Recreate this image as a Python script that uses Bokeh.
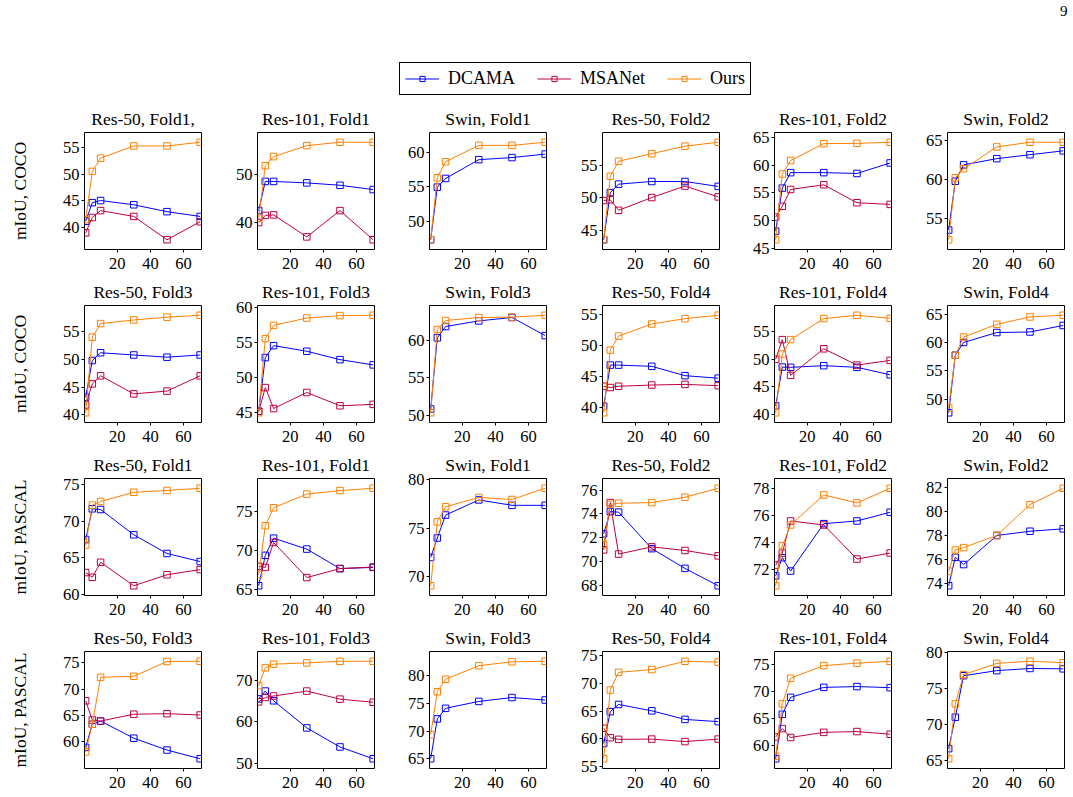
from bokeh.plotting import figure
from bokeh.layouts import column, row
from bokeh.models import Range1d, FixedTicker, Legend, LegendItem, Label, LinearAxis
from bokeh.embed import file_html
from bokeh.resources import INLINE

# ---------------- data ----------------
shots = [1, 5, 10, 30, 50, 70]
series_names = ["DCAMA", "MSANet", "Ours"]
series_colors = ["#0000ff", "#bf0040", "#ff8000"]
row_labels = ["mIoU, COCO", "mIoU, COCO", "mIoU, PASCAL", "mIoU, PASCAL"]
x_ticks = [20, 40, 60]

# Row 1 : COCO, folds 1-2
dcama_coco_r50_f1 = [41.1, 44.6, 45.0, 44.2, 42.9, 42.0]
msanet_coco_r50_f1 = [38.9, 41.8, 43.1, 42.0, 37.6, 41.0]
ours_coco_r50_f1 = [41.4, 50.5, 53.0, 55.3, 55.3, 56.0]
dcama_coco_r101_f1 = [42.4, 48.5, 48.5, 48.2, 47.7, 46.8]
msanet_coco_r101_f1 = [39.9, 41.4, 41.5, 36.9, 42.4, 36.3]
ours_coco_r101_f1 = [40.85, 51.8, 53.7, 56.0, 56.7, 56.7]
dcama_coco_swin_f1 = [47.4, 54.95, 56.2, 58.9, 59.2, 59.7]
ours_coco_swin_f1 = [47.4, 56.3, 58.6, 60.95, 60.95, 61.4]
dcama_coco_r50_f2 = [43.6, 50.8, 52.1, 52.5, 52.5, 51.75]
msanet_coco_r50_f2 = [49.6, 49.7, 48.1, 50.05, 51.8, 50.15]
ours_coco_r50_f2 = [43.6, 53.3, 55.6, 56.75, 57.9, 58.5]
dcama_coco_r101_f2 = [48.05, 55.85, 58.65, 58.65, 58.5, 60.4]
msanet_coco_r101_f2 = [50.6, 52.55, 55.6, 56.45, 53.2, 52.9]
ours_coco_r101_f2 = [46.5, 58.4, 60.85, 63.9, 63.95, 64.15]
dcama_coco_swin_f2 = [53.55, 59.8, 61.9, 62.7, 63.2, 63.7]
ours_coco_swin_f2 = [52.3, 60.25, 61.4, 64.2, 64.8, 64.8]

# Row 2 : COCO, folds 3-4
dcama_coco_r50_f3 = [43.2, 49.8, 51.2, 50.8, 50.4, 50.8]
msanet_coco_r50_f3 = [41.8, 45.6, 47.05, 43.8, 44.3, 47.05]
ours_coco_r50_f3 = [40.4, 54.0, 56.45, 57.1, 57.6, 57.95]
dcama_coco_r101_f3 = [45.2, 52.9, 54.6, 53.8, 52.6, 51.85]
msanet_coco_r101_f3 = [45.2, 48.6, 45.6, 47.9, 46.0, 46.2]
ours_coco_r101_f3 = [45.0, 55.6, 57.5, 58.55, 58.9, 58.95]
dcama_coco_swin_f3 = [50.85, 60.3, 61.8, 62.55, 63.0, 60.6]
ours_coco_swin_f3 = [50.35, 61.4, 62.6, 63.0, 63.05, 63.3]
dcama_coco_r50_f4 = [40.2, 46.8, 46.8, 46.6, 45.1, 44.7]
msanet_coco_r50_f4 = [43.4, 43.2, 43.4, 43.6, 43.7, 43.5]
ours_coco_r50_f4 = [39.15, 49.2, 51.45, 53.4, 54.25, 54.8]
dcama_coco_r101_f4 = [41.6, 48.6, 48.55, 48.85, 48.55, 47.2]
msanet_coco_r101_f4 = [50.0, 53.55, 47.1, 51.9, 48.95, 49.8]
ours_coco_r101_f4 = [40.35, 50.95, 53.55, 57.35, 57.95, 57.4]
dcama_coco_swin_f4 = [47.6, 57.75, 60.0, 61.75, 61.85, 63.0]
ours_coco_swin_f4 = [48.5, 57.75, 60.95, 63.2, 64.5, 64.8]

# Row 3 : PASCAL, folds 1-2
dcama_pascal_r50_f1 = [67.5, 71.7, 71.6, 68.15, 65.6, 64.5]
msanet_pascal_r50_f1 = [63.0, 62.35, 64.4, 61.2, 62.7, 63.4]
ours_pascal_r50_f1 = [66.75, 72.2, 72.7, 73.95, 74.2, 74.5]
dcama_pascal_r101_f1 = [65.5, 69.4, 71.6, 70.2, 67.7, 67.85]
msanet_pascal_r101_f1 = [68.0, 67.85, 71.05, 66.55, 67.7, 67.9]
ours_pascal_r101_f1 = [66.95, 73.2, 75.5, 77.25, 77.7, 78.0]
dcama_pascal_swin_f1 = [72.0, 74.0, 76.35, 77.9, 77.35, 77.35]
ours_pascal_swin_f1 = [69.1, 75.65, 77.2, 78.15, 77.95, 79.1]
dcama_pascal_r50_f2 = [72.35, 74.2, 74.15, 71.1, 69.45, 68.0]
msanet_pascal_r50_f2 = [71.0, 74.95, 70.65, 71.25, 70.95, 70.5]
ours_pascal_r50_f2 = [71.45, 74.8, 74.9, 74.95, 75.4, 76.15]
dcama_pascal_r101_f2 = [71.5, 72.85, 71.85, 75.4, 75.6, 76.25]
msanet_pascal_r101_f2 = [72.3, 73.2, 75.6, 75.3, 72.75, 73.2]
ours_pascal_r101_f2 = [70.75, 73.75, 75.3, 77.55, 76.95, 78.05]
dcama_pascal_swin_f2 = [73.85, 76.2, 75.6, 78.0, 78.35, 78.55]
ours_pascal_swin_f2 = [75.05, 76.8, 77.0, 78.0, 80.55, 81.9]

# Row 4 : PASCAL, folds 3-4
dcama_pascal_r50_f3 = [58.95, 63.35, 63.95, 60.7, 58.45, 56.8]
msanet_pascal_r50_f3 = [67.8, 64.15, 63.95, 65.25, 65.35, 65.1]
ours_pascal_r50_f3 = [58.1, 63.35, 72.25, 72.45, 75.25, 75.3]
dcama_pascal_r101_f3 = [65.5, 67.4, 65.05, 58.5, 53.9, 51.05]
msanet_pascal_r101_f3 = [64.8, 65.85, 66.2, 67.4, 65.45, 64.7]
ours_pascal_r101_f3 = [68.7, 73.0, 73.9, 74.2, 74.6, 74.6]
dcama_pascal_swin_f3 = [65.0, 72.2, 74.1, 75.35, 76.05, 75.6]
ours_pascal_swin_f3 = [69.35, 77.1, 79.35, 81.8, 82.5, 82.6]
dcama_pascal_r50_f4 = [59.15, 64.9, 66.2, 65.05, 63.5, 63.1]
msanet_pascal_r50_f4 = [61.9, 60.2, 59.9, 59.95, 59.5, 59.95]
ours_pascal_r50_f4 = [56.4, 68.8, 72.0, 72.5, 74.0, 73.85]
dcama_pascal_r101_f4 = [57.5, 65.75, 68.9, 70.75, 70.9, 70.7]
msanet_pascal_r101_f4 = [61.55, 63.1, 61.45, 62.4, 62.55, 62.05]
ours_pascal_r101_f4 = [57.95, 67.7, 72.45, 74.8, 75.25, 75.6]
dcama_pascal_swin_f4 = [66.7, 71.05, 76.8, 77.5, 77.8, 77.75]
ours_pascal_swin_f4 = [65.3, 72.9, 76.95, 78.5, 78.8, 78.6]

# panel titles and y tick labels, per row
titles_row1 = ["Res-50, Fold1,", "Res-101, Fold1", "Swin, Fold1", "Res-50, Fold2", "Res-101, Fold2", "Swin, Fold2"]
titles_row2 = ["Res-50, Fold3", "Res-101, Fold3", "Swin, Fold3", "Res-50, Fold4", "Res-101, Fold4", "Swin, Fold4"]
titles_row3 = ["Res-50, Fold1", "Res-101, Fold1", "Swin, Fold1", "Res-50, Fold2", "Res-101, Fold2", "Swin, Fold2"]
titles_row4 = ["Res-50, Fold3", "Res-101, Fold3", "Swin, Fold3", "Res-50, Fold4", "Res-101, Fold4", "Swin, Fold4"]

yticks_row1 = [[40, 45, 50, 55], [40, 50], [50, 55, 60], [45, 50, 55], [45, 50, 55, 60, 65], [55, 60, 65]]
yticks_row2 = [[40, 45, 50, 55], [45, 50, 55, 60], [50, 55, 60], [40, 45, 50, 55], [40, 45, 50, 55], [50, 55, 60, 65]]
yticks_row3 = [[60, 65, 70, 75], [65, 70, 75], [70, 75, 80], [68, 70, 72, 74, 76], [70, 72, 74, 76, 78], [74, 76, 78, 80, 82]]
yticks_row4 = [[60, 65, 70, 75], [50, 60, 70], [65, 70, 75, 80], [55, 60, 65, 70, 75], [60, 65, 70, 75], [65, 70, 75, 80]]

# series table built from the named lists (None = method not reported)
rows_series = [
    [(dcama_coco_r50_f1, msanet_coco_r50_f1, ours_coco_r50_f1),
     (dcama_coco_r101_f1, msanet_coco_r101_f1, ours_coco_r101_f1),
     (dcama_coco_swin_f1, None, ours_coco_swin_f1),
     (dcama_coco_r50_f2, msanet_coco_r50_f2, ours_coco_r50_f2),
     (dcama_coco_r101_f2, msanet_coco_r101_f2, ours_coco_r101_f2),
     (dcama_coco_swin_f2, None, ours_coco_swin_f2)],
    [(dcama_coco_r50_f3, msanet_coco_r50_f3, ours_coco_r50_f3),
     (dcama_coco_r101_f3, msanet_coco_r101_f3, ours_coco_r101_f3),
     (dcama_coco_swin_f3, None, ours_coco_swin_f3),
     (dcama_coco_r50_f4, msanet_coco_r50_f4, ours_coco_r50_f4),
     (dcama_coco_r101_f4, msanet_coco_r101_f4, ours_coco_r101_f4),
     (dcama_coco_swin_f4, None, ours_coco_swin_f4)],
    [(dcama_pascal_r50_f1, msanet_pascal_r50_f1, ours_pascal_r50_f1),
     (dcama_pascal_r101_f1, msanet_pascal_r101_f1, ours_pascal_r101_f1),
     (dcama_pascal_swin_f1, None, ours_pascal_swin_f1),
     (dcama_pascal_r50_f2, msanet_pascal_r50_f2, ours_pascal_r50_f2),
     (dcama_pascal_r101_f2, msanet_pascal_r101_f2, ours_pascal_r101_f2),
     (dcama_pascal_swin_f2, None, ours_pascal_swin_f2)],
    [(dcama_pascal_r50_f3, msanet_pascal_r50_f3, ours_pascal_r50_f3),
     (dcama_pascal_r101_f3, msanet_pascal_r101_f3, ours_pascal_r101_f3),
     (dcama_pascal_swin_f3, None, ours_pascal_swin_f3),
     (dcama_pascal_r50_f4, msanet_pascal_r50_f4, ours_pascal_r50_f4),
     (dcama_pascal_r101_f4, msanet_pascal_r101_f4, ours_pascal_r101_f4),
     (dcama_pascal_swin_f4, None, ours_pascal_swin_f4)],
]
rows_titles = [titles_row1, titles_row2, titles_row3, titles_row4]
rows_yticks = [yticks_row1, yticks_row2, yticks_row3, yticks_row4]

# ---------------- styling / layout ----------------
SERIF = "Liberation Serif"
TICK_FS = "16.5px"
TITLE_FS = "17.5px"
FRAME_W, FRAME_H = 117, 117
LEFT_BORDERS = [84, 50, 50, 50, 50, 50]
RIGHT_BORDERS = [6, 5, 6, 5, 6, 6]
PAGE_W = sum(LEFT_BORDERS) + sum(RIGHT_BORDERS) + 6 * FRAME_W
HEADER_H = 105


def blank_figure(w, h):
    f = figure(width=w, height=h, output_backend="svg", toolbar_location=None,
               x_range=Range1d(0, 1), y_range=Range1d(0, 1), title=None,
               x_axis_location=None, y_axis_location=None,
               min_border_left=0, min_border_right=0, min_border_top=0, min_border_bottom=0)
    f.xgrid.visible = False
    f.ygrid.visible = False
    f.outline_line_color = None
    return f


def make_panel(r, c):
    series = rows_series[r][c]
    vals = [v for s in series if s is not None for v in s]
    lo, hi = min(vals), max(vals)
    pad = 0.1 * (hi - lo)
    p = figure(frame_width=FRAME_W, frame_height=FRAME_H,
               output_backend="svg", toolbar_location=None, title=None,
               x_range=Range1d(0.3, 70.8), y_range=Range1d(lo - pad, hi + pad),
               min_border_left=LEFT_BORDERS[c],
               min_border_right=RIGHT_BORDERS[c],
               min_border_top=27,
               min_border_bottom=28 if r == 3 else 29)
    p.xgrid.visible = False
    p.ygrid.visible = False
    p.outline_line_color = "black"
    p.outline_line_width = 1
    p.outline_line_alpha = 1
    p.background_fill_color = "white"
    p.border_fill_color = "white"
    p.xaxis.ticker = FixedTicker(ticks=x_ticks)
    p.yaxis.ticker = FixedTicker(ticks=rows_yticks[r][c])
    for ax in (p.xaxis[0], p.yaxis[0]):
        ax.axis_line_color = None
        ax.major_tick_out = 3
        ax.major_tick_in = 0
        ax.minor_tick_out = 0
        ax.minor_tick_in = 0
        ax.major_tick_line_color = "black"
        ax.major_label_text_font = SERIF
        ax.major_label_text_font_size = TICK_FS
        ax.major_label_text_color = "black"
    p.xaxis.major_label_standoff = 5
    p.yaxis.major_label_standoff = 2
    if c == 0:
        p.yaxis.axis_label = row_labels[r]
        p.yaxis.axis_label_text_font = SERIF
        p.yaxis.axis_label_text_font_size = TITLE_FS
        p.yaxis.axis_label_text_font_style = "normal"
        p.yaxis.axis_label_text_color = "black"
        p.yaxis.axis_label_standoff = 30
    # panel title: label of a tick-less axis above the frame
    title_axis = LinearAxis(ticker=FixedTicker(ticks=[]), axis_label=rows_titles[r][c],
                            axis_line_color=None, major_tick_line_color=None,
                            minor_tick_line_color=None, major_tick_out=0, major_tick_in=0,
                            minor_tick_out=0, minor_tick_in=0, major_label_standoff=0,
                            major_label_text_font_size="1px",
                            axis_label_standoff=4, axis_label_text_font=SERIF,
                            axis_label_text_font_size=TITLE_FS,
                            axis_label_text_font_style="normal",
                            axis_label_text_color="black")
    p.add_layout(title_axis, "above")
    for s, col in zip(series, series_colors):
        if s is None:
            continue
        p.line(shots, s, line_color=col, line_width=1)
        p.scatter(shots, s, marker="square", size=6.5, line_color=col,
                  fill_color=None, line_width=1)
    return p


# ---------------- header with legend ----------------
header = blank_figure(PAGE_W, HEADER_H)
items = []
for name, col in zip(series_names, series_colors):
    # off-range samples: only the legend glyphs are visible
    lr = header.line(x=[-5, -4], y=[-5, -5], line_color=col, line_width=1)
    sr = header.scatter(x=[-5], y=[-5], marker="square", size=6, line_color=col,
                        fill_color=None, line_width=1)
    items.append(LegendItem(label=name, renderers=[lr, sr]))

legend = Legend(items=items, orientation="horizontal", location=(399, 10),
                border_line_color="black", border_line_width=1, border_line_alpha=1,
                background_fill_color="white", background_fill_alpha=1,
                padding=5, spacing=22, label_standoff=9, margin=0,
                glyph_width=34, glyph_height=13, label_height=13,
                label_text_font=SERIF, label_text_font_size="18px",
                label_text_color="black")
header.add_layout(legend)

page_no = Label(x=1067, y=HEADER_H - 5, x_units="screen", y_units="screen", text="9",
                text_align="right", text_baseline="top",
                text_font=SERIF, text_font_size="15px", text_color="black")
header.add_layout(page_no)

blocks = [header]
for r in range(4):
    blocks.append(row(*[make_panel(r, c) for c in range(6)]))
p = column(*blocks)

open("out.html", "w").write(file_html(p, INLINE))
